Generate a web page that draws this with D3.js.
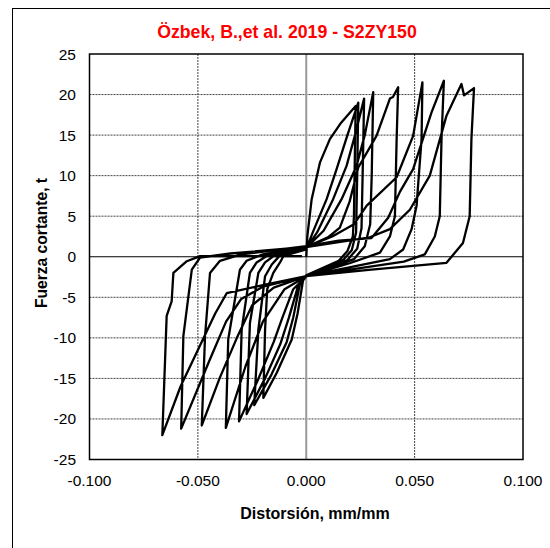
<!DOCTYPE html>
<html>
<head>
<meta charset="utf-8">
<script src="https://cdn.jsdelivr.net/npm/d3@7"></script>
<style>
  body { margin: 0; background: #fff; }
  text { font-family: "Liberation Sans", Arial, sans-serif; fill: #000; }
</style>
</head>
<body>
<div id="chart"></div>
<script>
// each cycle: [distorsion, fuerza] pairs, in drawing order
const cycle1 = [[0, 0], [0.0005, 2.5], [0.0025, 7.1], [0.0063, 11.6], [0.0109, 14.5], [0.016, 16.5], [0.0228, 18.6],
  [0.0224, 12], [0.0220, 5], [0.0215, 2.5], [0.019, 0.7], [0.015, -0.5], [0, -2.3],
  [-0.0014, -2.8], [-0.004, -7], [-0.0067, -10.2], [-0.0136, -14.3], [-0.0198, -17.4],
  [-0.0190, -9], [-0.0180, -4], [-0.0152, -2.0], [-0.0121, -0.7], [-0.0105, 0.1], [0, 0.9]];
const cycle2 = [[0.003, 3], [0.0094, 7.1], [0.014, 10.8], [0.019, 15], [0.024, 19.0],
  [0.0235, 10], [0.023, 3], [0.021, 0.8], [0.017, -0.4], [0, -2.3],
  [-0.003, -3.5], [-0.006, -7.5], [-0.009, -10.5], [-0.016, -14.5], [-0.024, -18.3],
  [-0.0221, -9], [-0.019, -2.4], [-0.0159, -0.95], [-0.012, 0.2], [0, 1.0]];
const cycle3 = [[0.005, 3], [0.0124, 7.1], [0.0186, 11.2], [0.0225, 15], [0.0267, 19.5],
  [0.026, 10], [0.0255, 3.5], [0.0235, 1], [0.019, -0.4], [0, -2.4],
  [-0.004, -3.8], [-0.008, -7.5], [-0.012, -10.8], [-0.019, -15], [-0.0275, -19.4],
  [-0.026, -8.2], [-0.0221, -2.0], [-0.019, -0.7], [-0.014, 0.3], [0, 1.1]];
const cycle4 = [[0.008, 3.2], [0.0163, 7.1], [0.0232, 11.2], [0.027, 15], [0.0309, 20.3],
  [0.0302, 10], [0.0295, 4], [0.027, 1.3], [0.022, -0.3], [0, -2.4],
  [-0.006, -4], [-0.011, -7.5], [-0.015, -10.5], [-0.022, -15], [-0.031, -20.3],
  [-0.0298, -9.0], [-0.026, -2.0], [-0.0229, -0.7], [-0.017, 0.3], [0, 1.2]];
const cycle5 = [[0.01, 2.4], [0.0155, 3.6], [0.02, 6.8], [0.024, 11.0], [0.0324, 14.9], [0.0386, 19.5], [0.040, 19.7], [0.0424, 20.9],
  [0.0417, 14.5], [0.0409, 5], [0.0386, 2.5], [0.034, 0.5], [0.02, -0.8], [0, -2.4],
  [-0.01, -4], [-0.02, -8], [-0.028, -13.5], [-0.0371, -21.1],
  [-0.036, -10.2], [-0.0306, -1.6], [-0.0275, -0.5], [-0.02, 0.3], [0, 1.2]];
const cycle6 = [[0.012, 2.5], [0.022, 4], [0.0279, 6.3], [0.0417, 9.8], [0.0493, 14.9], [0.0536, 21.5],
  [0.0532, 14.5], [0.0509, 6.3], [0.0486, 3.4], [0.0447, 0.9], [0.0386, -0.3], [0, -2.4],
  [-0.015, -3.8], [-0.025, -6], [-0.032, -10], [-0.04, -15], [-0.0482, -20.8],
  [-0.0467, -9.8], [-0.0444, -2.0], [-0.0398, -0.5], [-0.03, 0.3], [0, 1.3]];
const cycle7 = [[0.015, 2.0], [0.0301, 2.3], [0.0378, 4.8], [0.0432, 8.0], [0.0493, 10.8], [0.0578, 17.8], [0.0635, 21.7],
  [0.0624, 14.5], [0.0616, 5], [0.0593, 2.5], [0.0547, 0.3], [0.045, -0.6], [0, -2.4],
  [-0.02, -3.7], [-0.03, -5.2], [-0.037, -8], [-0.045, -13], [-0.0577, -21.2],
  [-0.0567, -9.8], [-0.0528, -1.6], [-0.049, -0.1], [-0.035, 0.4], [0, 1.2]];
const cycle8 = [[0.0293, 2.4], [0.0386, 3.4], [0.0478, 5.8], [0.057, 10.0], [0.0647, 17.4], [0.0716, 21.3], [0.0728, 19.9], [0.0774, 20.8],
  [0.0762, 14.5], [0.0754, 5], [0.0723, 1.7], [0.0647, -0.75], [0.03, -1.6], [0, -2.4],
  [-0.02, -3.5], [-0.0367, -4.5], [-0.042, -7], [-0.05, -11.5], [-0.058, -16], [-0.0664, -22],
  [-0.0644, -7.3], [-0.0621, -5.5], [-0.0613, -2.0], [-0.0551, -0.55], [-0.049, 0.07], [-0.002, 0.07]];

const cycles = [cycle1, cycle2, cycle3, cycle4, cycle5, cycle6, cycle7, cycle8];
const xTicks = [-0.1, -0.05, 0, 0.05, 0.1];
const yTicks = [-25, -20, -15, -10, -5, 0, 5, 10, 15, 20, 25];

const W = 550, H = 548;
const plot = { left: 89.5, right: 523, top: 54, bottom: 459.5 };

const svg = d3.select("#chart").append("svg")
  .attr("width", W)
  .attr("height", H);

// outer chart frame
svg.append("rect")
  .attr("x", 12.5).attr("y", 8.5)
  .attr("width", 560).attr("height", 560)
  .attr("fill", "none").attr("stroke", "#000").attr("stroke-width", 1);

const x = d3.scaleLinear().domain([-0.1, 0.1]).range([plot.left, plot.right]);
const y = d3.scaleLinear().domain([-25, 25]).range([plot.bottom, plot.top]);

// grid
svg.append("g").selectAll("line")
  .data(yTicks.filter(d => d !== 0 && Math.abs(d) !== 25))
  .join("line")
  .attr("x1", plot.left).attr("x2", plot.right)
  .attr("y1", d => y(d)).attr("y2", d => y(d))
  .attr("stroke", "#444").attr("stroke-width", 1).attr("stroke-dasharray", "2,1");

svg.append("g").selectAll("line")
  .data(xTicks.filter(d => d !== 0 && Math.abs(d) !== 0.1))
  .join("line")
  .attr("x1", d => x(d)).attr("x2", d => x(d))
  .attr("y1", plot.top).attr("y2", plot.bottom)
  .attr("stroke", "#444").attr("stroke-width", 1).attr("stroke-dasharray", "2,1");

// zero lines
svg.append("line")
  .attr("x1", x(0)).attr("x2", x(0))
  .attr("y1", plot.top).attr("y2", plot.bottom)
  .attr("stroke", "#999").attr("stroke-width", 2);
svg.append("line")
  .attr("x1", plot.left).attr("x2", plot.right)
  .attr("y1", y(0)).attr("y2", y(0))
  .attr("stroke", "#000").attr("stroke-width", 1);

// curve
const line = d3.line().x(d => x(d[0])).y(d => y(d[1]));
svg.append("path")
  .datum(cycles.flat())
  .attr("d", line)
  .attr("fill", "none")
  .attr("stroke", "#000")
  .attr("stroke-width", 2.3)
  .attr("stroke-linejoin", "round");

// plot border
svg.append("rect")
  .attr("x", plot.left).attr("y", plot.top)
  .attr("width", plot.right - plot.left).attr("height", plot.bottom - plot.top)
  .attr("fill", "none").attr("stroke", "#000").attr("stroke-width", 1.5);

// tick labels
svg.append("g").selectAll("text")
  .data(yTicks)
  .join("text")
  .attr("x", 76).attr("y", d => y(d) + 5.5)
  .attr("text-anchor", "end")
  .style("font-size", "15.5px")
  .text(d => d);

svg.append("g").selectAll("text")
  .data(xTicks)
  .join("text")
  .attr("x", d => x(d)).attr("y", 486)
  .attr("text-anchor", "middle")
  .style("font-size", "15.5px")
  .text(d => d3.format(".3f")(d).replace("\u2212", "-"));

// titles
svg.append("text")
  .attr("x", 287).attr("y", 38)
  .attr("text-anchor", "middle")
  .style("font-size", "17.7px").style("font-weight", "bold")
  .style("fill", "#ff0000")
  .text("Özbek, B.,et al. 2019 - S2ZY150");

svg.append("text")
  .attr("x", 315).attr("y", 519)
  .attr("text-anchor", "middle")
  .style("font-size", "16px").style("font-weight", "bold")
  .text("Distorsión, mm/mm");

svg.append("text")
  .attr("transform", "translate(47,243) rotate(-90)")
  .attr("text-anchor", "middle")
  .style("font-size", "15.6px").style("font-weight", "bold")
  .text("Fuerza cortante, t");
</script>
</body>
</html>
